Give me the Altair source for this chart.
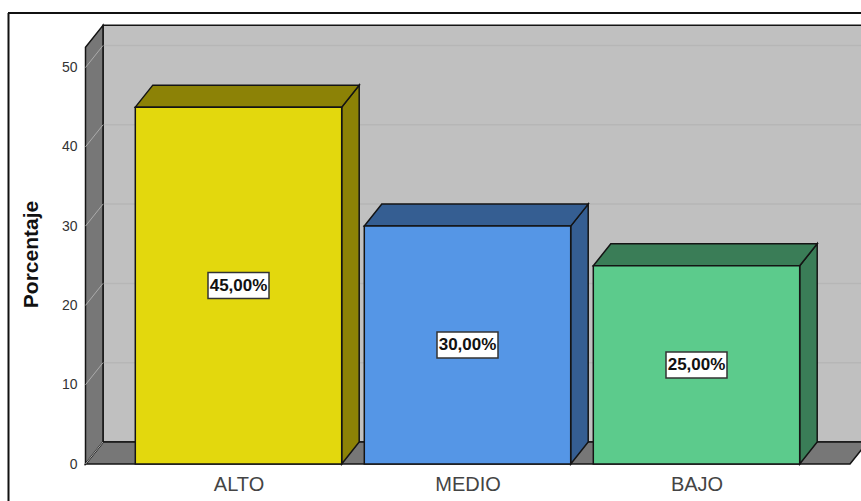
import altair as alt
import pandas as pd

# Chart values
categories = ["ALTO", "MEDIO", "BAJO"]
percentages = [45.0, 30.0, 25.0]
value_labels = ["45,00%", "30,00%", "25,00%"]
front_colors = ["#E3D80D", "#5596E6", "#5CCB8C"]
shade_colors = ["#8C8206", "#355E92", "#3A7D57"]
y_ticks = [0, 10, 20, 30, 40, 50]

# Scale geometry: x is measured in category steps, y in percent
STEP_PX = 229.0
UNIT_PX = 7.93
PLOT_W, PLOT_H = 776, 439
PAD_L, PAD_T = 85, 25
CENTER0_PX = 238.5
X_MIN = (PAD_L - CENTER0_PX) / STEP_PX
X_MAX = X_MIN + PLOT_W / STEP_PX
Y_MAX = PLOT_H / UNIT_PX
HALF_BAR = 103.2 / STEP_PX
DX = 17.5 / STEP_PX
DY = 22.0 / UNIT_PX
WALL_X = (85.5 - CENTER0_PX) / STEP_PX
FLOOR_END = (850 - CENTER0_PX) / STEP_PX
WALL_TOP = 52.55

xs = alt.Scale(domain=[X_MIN, X_MAX], nice=False, zero=False)
ys = alt.Scale(domain=[0, Y_MAX], nice=False, zero=False)

# Axes: numeric scale on the left, category names under the boxes
label_expr = "[" + ",".join(f"'{c}'" for c in categories) + "][datum.value]"
x_axis = alt.Axis(
    values=[0, 1, 2],
    labelExpr=label_expr,
    title=None,
    grid=False,
    domain=False,
    ticks=False,
    labelPadding=10,
    labelFont="Liberation Sans",
    labelFontSize=20,
    labelColor="#444444",
)
y_axis = alt.Axis(
    values=y_ticks,
    title="Porcentaje",
    grid=False,
    domain=False,
    ticks=False,
    labelPadding=8,
    labelFont="Liberation Sans",
    labelFontSize=14,
    labelColor="#333333",
    titleFont="Liberation Sans",
    titleFontSize=21,
    titleFontWeight="bold",
    titleColor="#111111",
    titleX=-44,
    titleY=229,
)
X = alt.X("x:Q", scale=xs, axis=x_axis)
Y = alt.Y("y:Q", scale=ys, axis=y_axis)
Y2 = alt.Y2("y2:Q")
EDGE = "#141414"


def band(rows, fill, stroke=EDGE, width=1.5):
    """Filled shape whose outline runs along (x, y) and back along (x, y2)."""
    data = pd.DataFrame(rows, columns=["x", "y", "y2"])
    return alt.Chart(data).mark_area(
        fill=fill, stroke=stroke, strokeWidth=width, opacity=1, clip=False
    ).encode(x=X, y=Y, y2=Y2)


def segment(rows, color, width=1.5):
    data = pd.DataFrame(rows, columns=["x", "y", "group"])
    return alt.Chart(data).mark_line(color=color, strokeWidth=width).encode(
        x=X, y=Y, detail="group:N"
    )


def top_face(left, right, level, fill):
    return band(
        [
            (left, level, level),
            (left + DX, level, level + DY),
            (right, level, level + DY),
            (right + DX, level + DY, level + DY),
        ],
        fill,
    )


def side_face(at, low, high, fill):
    return band([(at, low, high), (at + DX, low + DY, high + DY)], fill)


layers = []

# Back wall with its gridlines
layers.append(
    band(
        [(WALL_X + DX, DY, WALL_TOP + DY), (FLOOR_END + DX, DY, WALL_TOP + DY)],
        "#C0C0C0",
    )
)
back_grid = []
for t in y_ticks[1:]:
    back_grid += [(WALL_X + DX, t + DY, t), (X_MAX + DX, t + DY, t)]
layers.append(segment(back_grid, "#B6B6B6", 1.5))

# Floor and left wall
layers.append(top_face(WALL_X, FLOOR_END, 0, "#777777"))
layers.append(side_face(WALL_X, 0, WALL_TOP, "#777777"))
wall_grid = []
for t in y_ticks:
    wall_grid += [(WALL_X, t, t), (WALL_X + DX, t + DY, t)]
layers.append(segment(wall_grid, "#ABABAB", 1))

# Boxes: front, top and side faces
for i, v in enumerate(percentages):
    left, right = i - HALF_BAR, i + HALF_BAR
    layers.append(side_face(right, 0, v, shade_colors[i]))
    layers.append(top_face(left, right, v, shade_colors[i]))
    layers.append(band([(left, 0, v), (right, 0, v)], front_colors[i]))

# Value labels in white boxes at mid height
labels = pd.DataFrame(
    {
        "x": list(range(len(categories))),
        "y": [v / 2 for v in percentages],
        "label": value_labels,
    }
)
layers.append(
    alt.Chart(labels)
    .mark_rect(width=61, height=26, fill="white", stroke="#333333", strokeWidth=1.5)
    .encode(x=X, y=Y)
)
layers.append(
    alt.Chart(labels)
    .mark_text(font="Liberation Sans", fontSize=17, fontWeight="bold", color="#111111")
    .encode(x=X, y=Y, text="label:N")
)

# Outer frame, open on the right and at the bottom
frame_top = alt.Chart(pd.DataFrame({"a": [0]})).mark_rule(color="#111111", strokeWidth=2).encode(
    x=alt.value(8 - PAD_L), x2=alt.value(PLOT_W), y=alt.value(13 - PAD_T)
)
frame_left = alt.Chart(pd.DataFrame({"a": [0]})).mark_rule(color="#111111", strokeWidth=2).encode(
    x=alt.value(8.5 - PAD_L), y=alt.value(13 - PAD_T), y2=alt.value(PLOT_H + 37)
)
layers += [frame_top, frame_left]

chart = (
    alt.layer(*layers)
    .properties(
        width=PLOT_W,
        height=PLOT_H,
        background="white",
        padding={"left": PAD_L, "top": PAD_T, "right": 0, "bottom": 37},
        autosize=alt.AutoSizeParams(type="none"),
    )
    .configure_view(stroke=None)
)

chart.save("out.html", embed_options={"renderer": "svg", "actions": False})
